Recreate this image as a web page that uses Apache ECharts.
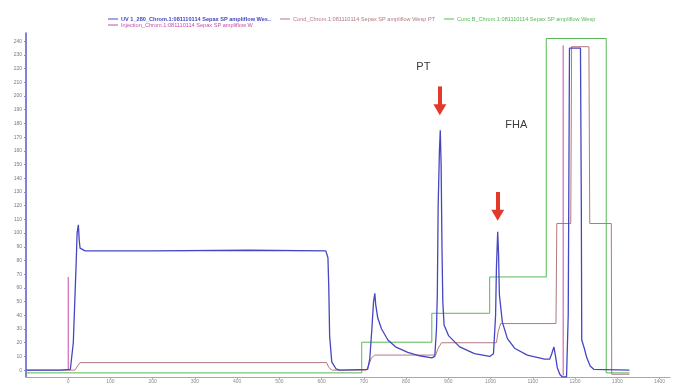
<!DOCTYPE html>
<html>
<head>
<meta charset="utf-8">
<script src="https://cdn.jsdelivr.net/npm/echarts@6/dist/echarts.min.js"></script>
<style>
  html, body { margin: 0; padding: 0; background: #fff; }
  #chart { width: 683px; height: 386px; }
</style>
</head>
<body>
<div id="chart"></div>
<script>
// Chromatogram traces, [volume, signal] pairs
const uvTrace = [
  [-99, 0], [-19, 0], [5, 0.5], [12, 20], [19, 80], [21, 100], [24, 106], [26, 95], [28, 89],
  [40, 87], [194, 87], [430, 87.5], [610, 87], [615, 82], [617, 60], [619, 25], [624, 6],
  [634, 1], [643, 0], [709, 0.5], [714, 8], [719, 30], [723, 50], [726, 56], [728, 48],
  [733, 38], [742, 30], [757, 22], [775, 17], [804, 13], [832, 10.5], [861, 9], [868, 10],
  [872, 30], [874, 55], [876, 120], [879, 160], [881, 175], [883, 150], [885, 90], [887, 50],
  [890, 33], [901, 25], [927, 17], [962, 12], [998, 10], [1007, 12], [1012, 40], [1014, 75],
  [1017, 101], [1019, 85], [1021, 55], [1028, 35], [1040, 23], [1057, 16], [1087, 11],
  [1128, 8], [1140, 8], [1145, 12], [1150, 17], [1154, 10], [1158, 2], [1164, -3],
  [1170, -5], [1180, -5], [1184, 40], [1187, 235], [1213, 235], [1215, 120], [1216, 22],
  [1222, 16], [1228, 9], [1236, 3], [1245, 0.5], [1329, 0]
];
const condTrace = [
  [-99, 0], [16, 0], [22, 3], [28, 5.5], [612, 5.5], [617, 2], [625, 0], [706, 0],
  [712, 4], [718, 9], [726, 11], [870, 11], [876, 16], [884, 20], [1014, 20], [1018, 28],
  [1024, 34], [1155, 34], [1157, 107], [1190, 107], [1192, 236], [1233, 236], [1235, 107],
  [1286, 107], [1287, -3], [1329, -3]
];
const concBTrace = [
  [-99, -2], [695, -2], [695, 20.4], [861, 20.4], [861, 41.5], [998, 41.5], [998, 68],
  [1132, 68], [1132, 242], [1274, 242], [1274, -2], [1329, -2]
];
const injectionMarkA = [[0, 0], [0, 68]];
const injectionMarkB = [[1172, -4], [1172, 237]];

const seriesNames = [
  'UV 1_280_Chrom.1:081110114 Sepax SP ampliflow Wes..',
  'Cond_Chrom.1:081110114 Sepax SP ampliflow Wesp PT',
  'Conc B_Chrom.1:081110114 Sepax SP ampliflow Wesp',
  'Injection_Chrom.1:081110114 Sepax SP ampliflow W'
];
const seriesColors = ['#4646c2', '#b07a80', '#58b858', '#c84aa8'];

const yTicks = [0, 10, 20, 30, 40, 50, 60, 70, 80, 90, 100, 110, 120, 130, 140, 150, 160, 170, 180, 190, 200, 210, 220, 230, 240];
const xTicks = [0, 100, 200, 300, 400, 500, 600, 700, 800, 900, 1000, 1100, 1200, 1300, 1400];

// Peak annotations: [label, x, y]
const peakLabels = [['PT', 841, 221], ['FHA', 1061, 179]];
// Arrows: [x, yFrom, yTo]
const peakArrows = [[880, 207, 190], [1017, 130, 113]];

const chart = echarts.init(document.getElementById('chart'), null, { renderer: 'canvas' });

const lineBase = (name, data, color, width, z) => ({
  name, type: 'line', data, showSymbol: false, symbol: 'none',
  lineStyle: { color, width }, itemStyle: { color }, z, animation: false
});

const legendText = (i, bold) => ({
  name: seriesNames[i],
  textStyle: { color: seriesColors[i], fontWeight: bold ? 'bold' : 'normal' }
});

const plain = v => String(v);

chart.setOption({
  backgroundColor: '#ffffff',
  animation: false,
  grid: { left: 26, right: 13, top: 33, bottom: 9 },
  legend: [
    {
      left: 103, top: 11, itemWidth: 10, itemHeight: 1, itemGap: 9, icon: 'rect',
      textStyle: { fontSize: 5.6, fontFamily: 'Liberation Sans', padding: [0, 0, 0, -2] },
      data: [legendText(0, true), legendText(1, false), legendText(2, false)]
    },
    {
      left: 103, top: 17, itemWidth: 10, itemHeight: 1, icon: 'rect',
      textStyle: { fontSize: 5.6, fontFamily: 'Liberation Sans', padding: [0, 0, 0, -2] },
      data: [legendText(3, false)]
    }
  ],
  xAxis: {
    type: 'value', min: -100, max: 1425,
    splitLine: { show: false },
    axisLine: { onZero: false, lineStyle: { color: '#a8a8a8', width: 1 } },
    axisTick: { customValues: xTicks, length: 2, lineStyle: { color: '#a8a8a8' } },
    axisLabel: { customValues: xTicks, formatter: plain, fontSize: 5, color: '#8a8a8a', margin: 2, fontFamily: 'Liberation Sans' }
  },
  yAxis: {
    type: 'value', min: -5, max: 246,
    splitLine: { show: false },
    axisLine: { show: true, onZero: false, lineStyle: { color: '#5a5ac8', width: 1.5 } },
    axisTick: { show: true, customValues: yTicks, length: 2, lineStyle: { color: '#8888cc' } },
    axisLabel: { customValues: yTicks, formatter: plain, fontSize: 5, color: '#7a7a7a', margin: 4, fontFamily: 'Liberation Sans' }
  },
  series: [
    lineBase(seriesNames[2], concBTrace, seriesColors[2], 1, 2),
    lineBase(seriesNames[1], condTrace, seriesColors[1], 1, 3),
    lineBase(seriesNames[3], injectionMarkA, seriesColors[3], 1, 4),
    lineBase(seriesNames[3], injectionMarkB, seriesColors[3], 1, 4),
    lineBase(seriesNames[0], uvTrace, seriesColors[0], 1.3, 5),
    {
      name: 'annotations', type: 'line', data: [], z: 10, animation: false,
      markPoint: {
        symbol: 'circle', symbolSize: 0, animation: false,
        label: {
          show: true, position: 'inside', color: '#3a3a3a', fontSize: 11,
          fontFamily: 'Liberation Sans', formatter: p => p.name
        },
        data: peakLabels.map(([t, x, y]) => ({ name: t, coord: [x, y] }))
      },
      markLine: {
        silent: true, animation: false,
        symbol: ['none', 'triangle'], symbolSize: [13, 11],
        label: { show: false },
        lineStyle: { color: '#e2392b', width: 4, type: 'solid' },
        data: peakArrows.map(([x, y0, y1]) => [{ coord: [x, y0] }, { coord: [x, y1] }])
      }
    }
  ]
});
</script>
</body>
</html>
